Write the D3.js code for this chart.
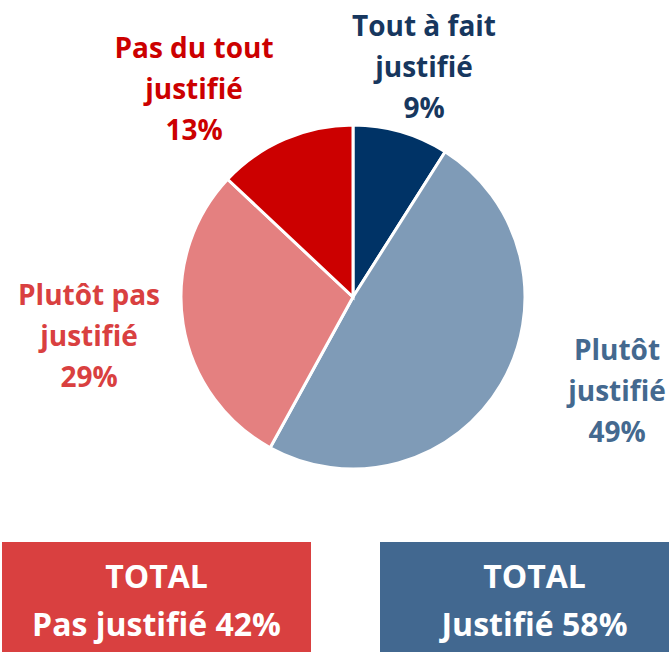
<!DOCTYPE html>
<meta charset="utf-8">
<script src="https://d3js.org/d3.v7.min.js"></script>
<style type="text/css">
body { margin: 0; background: #fff; }
text { font-family: "Open Sans", Lato, sans-serif; font-weight: bold; font-variant-ligatures: none; }
</style>
<body>
<script>

// data
var categories = ["Tout à fait justifié", "Plutôt justifié", "Plutôt pas justifié", "Pas du tout justifié"];
var values = [9, 49, 29, 13];
var labelLines = [["Tout à fait", "justifié", "9%"], ["Plutôt", "justifié", "49%"], ["Plutôt pas", "justifié", "29%"], ["Pas du tout", "justifié", "13%"]];
var sliceColors = ["#003366", "#7f9bb7", "#e48080", "#cc0000"];
var textColors = ["#17375e", "#44698f", "#d94040", "#cc0000"];
var totals = ["Pas justifié 42%", "Justifié 58%"];
var totalColors = ["#d94040", "#426890"];

var width = 669, height = 652;
var cx = 353, cy = 297, radius = 172;

// label anchor points (centre x, first baseline)
var labelPos = [[424, 36], [617, 360], [89, 305], [194, 58]];

var svg = d3.select("body").append("svg")
    .attr("width", width)
    .attr("height", height);

var pie = d3.pie().sort(null).value(function(d) { return d; });
var arc = d3.arc().innerRadius(0).outerRadius(radius);

var g = svg.append("g").attr("transform", "translate(" + cx + "," + cy + ")");

g.selectAll("path").data(pie(values)).enter().append("path")
    .attr("d", arc)
    .style("fill", function(d, i) { return sliceColors[i]; })
    .style("stroke", "#fff")
    .style("stroke-width", 3);

// slice labels
svg.selectAll(".lbl").data(labelLines).enter().append("text")
    .attr("class", "lbl")
    .attr("text-anchor", "middle")
    .style("font-size", "28px")
    .style("fill", function(d, i) { return textColors[i]; })
    .each(function(d, i) {
        var t = d3.select(this);
        d.forEach(function(line, j) {
            t.append("tspan")
                .attr("x", labelPos[i][0])
                .attr("y", labelPos[i][1] + j * 41)
                .text(line);
        });
    });

// total boxes
var boxX = d3.scaleOrdinal().domain([0, 1]).range([2, 380]);
var boxW = 309;

var box = svg.selectAll(".box").data(totals).enter().append("g").attr("class", "box");
box.append("rect")
    .attr("x", function(d, i) { return boxX(i); })
    .attr("y", 542)
    .attr("width", boxW)
    .attr("height", 110)
    .style("fill", function(d, i) { return totalColors[i]; });
box.append("text")
    .attr("x", function(d, i) { return boxX(i) + boxW / 2; })
    .attr("y", 588)
    .attr("text-anchor", "middle")
    .style("fill", "#fff")
    .style("font-size", "32px")
    .text("TOTAL");
box.append("text")
    .attr("x", function(d, i) { return boxX(i) + boxW / 2; })
    .attr("y", 636)
    .attr("text-anchor", "middle")
    .style("fill", "#fff")
    .style("font-size", "32px")
    .text(function(d) { return d; });

</script>
</body>
</html>
